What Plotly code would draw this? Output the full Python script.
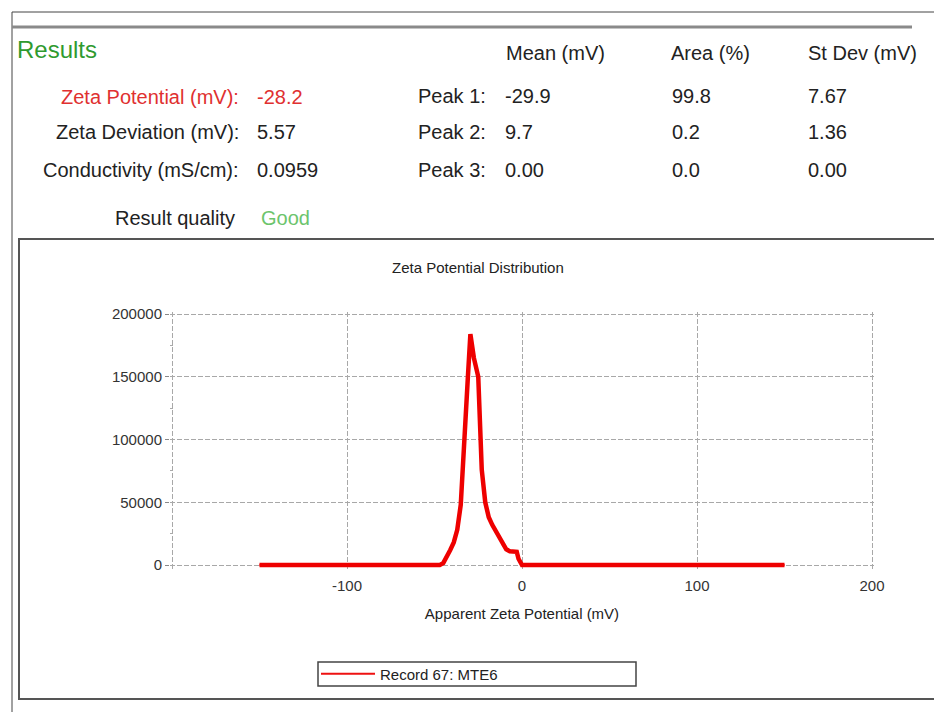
import plotly.graph_objects as go

# ---- data ----
zeta_mv = [-150, -47, -45, -43, -41, -39, -37, -35, -33, -31, -29.5, -27.5, -25, -23, -21,
           -19, -17, -15, -13, -11, -9, -7, -5, -3, -2, -1, 0, 150]
counts = [0, 0, 1500, 6000, 12000, 18000, 28000, 48000, 92000, 148000, 184000, 165000, 150000,
          76000, 50000, 38000, 32000, 27000, 22000, 16000, 12500, 11000, 10500, 10500, 5000,
          1500, 0, 0]
series_name = "Record 67: MTE6"

header_cols = ["Mean (mV)", "Area (%)", "St Dev (mV)"]
peak_labels = ["Peak 1:", "Peak 2:", "Peak 3:"]
peak_mean = ["-29.9", "9.7", "0.00"]
peak_area = ["99.8", "0.2", "0.0"]
peak_sd = ["7.67", "1.36", "0.00"]
left_labels = ["Zeta Potential (mV):", "Zeta Deviation (mV):", "Conductivity (mS/cm):"]
left_values = ["-28.2", "5.57", "0.0959"]
x_ticks = [-200, -100, 0, 100, 200]
x_ticktext = ["", "-100", "0", "100", "200"]
y_ticks = [0, 50000, 100000, 150000, 200000]

OFF = 8                      # page body margin
W, H = 942 - OFF, 712 - OFF
L, R, T, B = 162, 866, 304, 562  # plot area pixels (figure coords)
FONT = "Liberation Sans, Arial, sans-serif"


def px(x):
    return (x - OFF - L) / (R - L)


def py(y):
    return (B - (y - OFF)) / (B - T)


fig = go.Figure()
# thin copy for the legend sample, hidden underneath the thick curve
fig.add_trace(go.Scatter(x=zeta_mv, y=counts, mode="lines", name=series_name,
                         line=dict(color="#ee1111", width=2), showlegend=True, hoverinfo="skip"))
fig.add_trace(go.Scatter(x=zeta_mv, y=counts, mode="lines", name=series_name,
                         line=dict(color="#ee0000", width=4.5), showlegend=False))

ann = []


def text(x, y, s, size=20, color="#222222", anchor="left"):
    ann.append(dict(x=px(x), y=py(y), xref="paper", yref="paper", text=s, showarrow=False,
                    xanchor=anchor, yanchor="middle", font=dict(family=FONT, size=size, color=color)))


text(15, 49, "Results", size=24, color="#2f9a2f")
for cx, s in zip([555, 710, 862], header_cols):
    text(cx, 53, s, anchor="center")
rows_y = [97, 132, 170]
for i, y in enumerate(rows_y):
    col = "#e03030" if i == 0 else "#222222"
    text(241, y, left_labels[i], color=col, anchor="right")
    text(255, y, left_values[i], color=col)
    text(488, y - (1 if i == 0 else 0), peak_labels[i], anchor="right")
    text(503, y - (1 if i == 0 else 0), peak_mean[i])
    text(670, y - (1 if i == 0 else 0), peak_area[i])
    text(806, y - (1 if i == 0 else 0), peak_sd[i])
text(237, 218, "Result quality", anchor="right")
text(259, 218, "Good", color="#6cc46c")
text(478, 267, "Zeta Potential Distribution", size=15, color="#222222", anchor="center")

shapes = [
    dict(type="line", xref="paper", yref="paper", x0=px(12), x1=px(950), y0=py(12), y1=py(12),
         line=dict(color="#444444", width=1)),
    dict(type="line", xref="paper", yref="paper", x0=px(12), x1=px(12), y0=py(12), y1=py(720),
         line=dict(color="#444444", width=1)),
    dict(type="line", xref="paper", yref="paper", x0=px(12), x1=px(912), y0=py(27), y1=py(27),
         line=dict(color="#8a8a8a", width=3)),
    dict(type="rect", xref="paper", yref="paper", x0=px(19), x1=px(938), y0=py(239), y1=py(699),
         line=dict(color="#555555", width=2)),
    dict(type="rect", xref="paper", yref="paper", x0=px(318), x1=px(636), y0=py(662), y1=py(686),
         line=dict(color="#444444", width=1.5)),
]

grid = dict(showgrid=True, gridcolor="#a8a8a8", griddash="5px,2px", gridwidth=1)
fig.update_layout(
    width=W, height=H,
    margin=dict(l=L, r=W - R, t=T, b=H - B, pad=0),
    paper_bgcolor="white", plot_bgcolor="white",
    font=dict(family=FONT, size=15, color="#333333"),
    annotations=ann, shapes=shapes,
    xaxis=dict(range=[-201.143, 201.143], tickvals=x_ticks, ticktext=x_ticktext, zeroline=False,
               showline=False, ticks="", ticklabelstandoff=5,
               tickfont=dict(size=15, color="#333333"),
               title=dict(text="Apparent Zeta Potential (mV)", font=dict(size=15, color="#222222"),
                          standoff=15), **grid),
    yaxis=dict(range=[-3984, 201594], tickvals=y_ticks, tickformat="d", zeroline=False,
               showline=False, ticks="outside", ticklen=4, tickcolor="#888888",
               tickfont=dict(size=15, color="#333333"),
               minor=dict(dtick=25000, tick0=0, ticks="inside", ticklen=3, tickcolor="#aaaaaa",
                          showgrid=False), **grid),
    legend=dict(x=px(316), y=py(674), xanchor="left", yanchor="middle", bgcolor="rgba(0,0,0,0)",
                borderwidth=0, font=dict(size=15, color="#222222"), itemwidth=54),
)
fig.write_html("out.html")
